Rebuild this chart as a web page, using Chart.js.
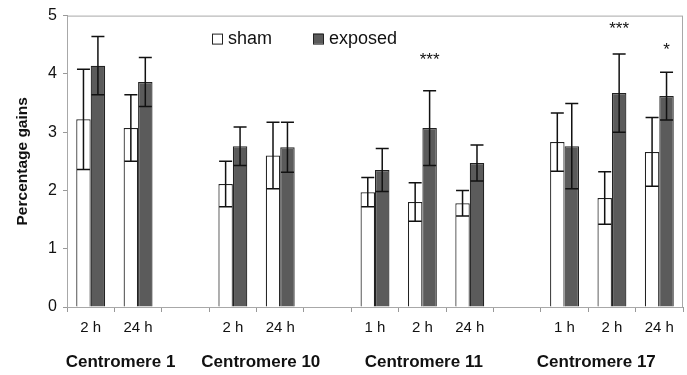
<!DOCTYPE html>
<html>
<head>
<meta charset="utf-8">
<script src="https://cdn.jsdelivr.net/npm/chart.js@4/dist/chart.umd.min.js"></script>
<style>
  html, body { margin: 0; padding: 0; background: #fff; }
  #wrap { width: 687px; height: 375px; }
</style>
</head>
<body>
<div id="wrap"><canvas id="chart" width="687" height="375"></canvas></div>
<script>
const FONT = '"Liberation Sans", Arial, sans-serif'

// categories (blank entries are the gaps between centromeres)
const timeLabels = ['2 h', '24 h', '', '2 h', '24 h', '', '1 h', '2 h', '24 h', '', '1 h', '2 h', '24 h']

const shamValues = [3.22, 3.07, null, 2.11, 2.60, null, 1.97, 1.80, 1.78, null, 2.83, 1.87, 2.66]
const shamErrors = [0.86, 0.57, null, 0.39, 0.57, null, 0.25, 0.33, 0.22, null, 0.50, 0.45, 0.59]
const exposedValues = [4.14, 3.86, null, 2.76, 2.74, null, 2.35, 3.07, 2.47, null, 2.76, 3.67, 3.62]
const exposedErrors = [0.50, 0.42, null, 0.33, 0.43, null, 0.37, 0.64, 0.31, null, 0.73, 0.67, 0.41]

// centromere names and where (category index) each one is centred
const groupNames = ['Centromere 1', 'Centromere 10', 'Centromere 11', 'Centromere 17']
const groupCenters = [0.63, 3.59, 7.03, 10.67]

// significance marks above the exposed bars
const sigCategories = [7, 11, 12]
const sigMarks = ['***', '***', '*']
const sigLevels = [4.33, 4.86, 4.49]

const errorBars = {
  id: 'errorBars',
  afterDatasetsDraw(chart) {
    const { ctx } = chart
    const y = chart.scales.y
    const errs = [shamErrors, exposedErrors]
    ctx.save()
    ctx.strokeStyle = '#111'
    ctx.lineWidth = 1.5
    chart.data.datasets.forEach((ds, i) => {
      const meta = chart.getDatasetMeta(i)
      meta.data.forEach((bar, j) => {
        const v = ds.data[j]
        const e = errs[i][j]
        if (v == null || e == null) return
        const top = y.getPixelForValue(v + e)
        const bot = y.getPixelForValue(v - e)
        const half = 6.5
        ctx.beginPath()
        ctx.moveTo(bar.x, top)
        ctx.lineTo(bar.x, bot)
        ctx.moveTo(bar.x - half, top)
        ctx.lineTo(bar.x + half, top)
        ctx.moveTo(bar.x - half, bot)
        ctx.lineTo(bar.x + half, bot)
        ctx.stroke()
      })
    })
    ctx.restore()
  },
}

const decorations = {
  id: 'decorations',
  beforeDatasetsDraw(chart) {
    const { ctx, chartArea } = chart
    ctx.save()
    ctx.strokeStyle = '#a8a8a8'
    ctx.lineWidth = 1
    ctx.strokeRect(chartArea.left + 0.5, chartArea.top + 0.5,
      chartArea.right - chartArea.left - 1, chartArea.bottom - chartArea.top)
    ctx.restore()
  },
  afterDraw(chart) {
    const { ctx, chartArea } = chart
    const x = chart.scales.x
    const y = chart.scales.y
    ctx.save()
    ctx.fillStyle = '#111'

    // group labels under the time labels
    ctx.font = 'bold 17px ' + FONT
    ctx.textAlign = 'center'
    ctx.textBaseline = 'middle'
    groupNames.forEach((name, i) => {
      ctx.fillText(name, x.getPixelForValue(groupCenters[i]), 362)
    })

    // significance stars, centred on the exposed bar
    const exposedMeta = chart.getDatasetMeta(1)
    ctx.font = '17px ' + FONT
    ctx.textBaseline = 'alphabetic'
    sigCategories.forEach((c, i) => {
      const bar = exposedMeta.data[c]
      ctx.fillText(sigMarks[i], bar.x, y.getPixelForValue(sigLevels[i]) + 10)
    })

    // legend
    const lx = chartArea.left + 145
    const ly = chartArea.top + 23
    ctx.font = '18px ' + FONT
    ctx.textAlign = 'left'
    ctx.textBaseline = 'middle'
    const starts = [lx, lx + 101]
    chart.data.datasets.forEach((ds, i) => {
      const bx = starts[i]
      ctx.fillStyle = ds.backgroundColor
      ctx.fillRect(bx, ly - 5, 10, 10)
      ctx.strokeStyle = '#222'
      ctx.lineWidth = 1
      ctx.strokeRect(bx + 0.5, ly - 4.5, 10, 10)
      ctx.fillStyle = '#111'
      ctx.fillText(ds.label, bx + 16, ly)
    })
    ctx.restore()
  },
}

new Chart(document.getElementById('chart'), {
  type: 'bar',
  data: {
    labels: timeLabels,
    datasets: [
      {
        label: 'sham',
        data: shamValues,
        backgroundColor: '#ffffff',
        borderColor: '#222',
        borderWidth: 1.2,
      },
      {
        label: 'exposed',
        data: exposedValues,
        backgroundColor: '#5b5b5b',
        borderColor: '#222',
        borderWidth: 1.2,
      },
    ],
  },
  options: {
    responsive: false,
    animation: false,
    events: [],
    layout: { padding: { top: 14, right: 4, left: 0, bottom: 0 } },
    datasets: { bar: { categoryPercentage: 0.61, barPercentage: 1, skipNull: false } },
    plugins: {
      legend: { display: false },
      tooltip: { enabled: false },
    },
    scales: {
      x: {
        afterFit(scale) { scale.height = 68 },
        grid: {
          offset: true,
          drawOnChartArea: false,
          tickLength: 5,
          color: '#999',
        },
        border: { color: '#999', width: 1 },
        ticks: {
          color: '#111',
          font: { family: FONT, size: 15 },
          padding: 7,
          maxRotation: 0,
          autoSkip: false,
        },
      },
      y: {
        min: 0,
        max: 5,
        afterFit(scale) { scale.width = 67 },
        grid: {
          drawOnChartArea: false,
          tickLength: 4,
          color: '#999',
        },
        border: { color: '#999', width: 1 },
        ticks: {
          stepSize: 1,
          color: '#111',
          font: { family: FONT, size: 16 },
          padding: 6,
        },
        title: {
          display: true,
          text: 'Percentage gains',
          color: '#111',
          font: { family: FONT, size: 15.5, weight: 'bold' },
          padding: { top: 13, bottom: 0 },
        },
      },
    },
  },
  plugins: [decorations, errorBars],
})
</script>
</body>
</html>
